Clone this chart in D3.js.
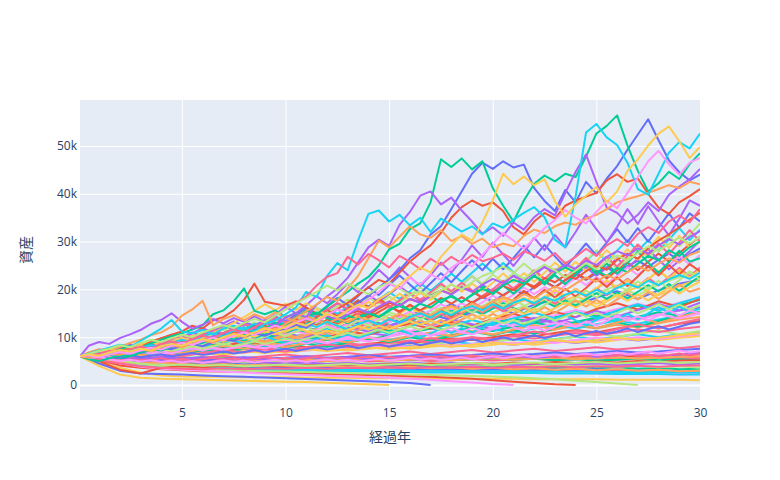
<!DOCTYPE html>
<meta charset="utf-8">
<html>
    <head>
        <style type="text/css">
            body { margin:0; background:#fff; }
            .tick text, .graphText {
                font-family: "Open Sans", "Noto Sans CJK JP", sans-serif;
                fill: #2a3f5f;
            }
        </style>
        <script src="https://d3js.org/d3.v7.min.js"></script>
    </head>
    <body>
        <svg width="780" height="480"></svg>
        <script type="text/javascript">
            // plotly default colorway, used by trace index
            var colorway = ["#636efa", "#EF553B", "#00cc96", "#ab63fa", "#FFA15A",
                            "#19d3f3", "#FF6692", "#B6E880", "#FF97FF", "#FECB52"];

            var xTicks = [5, 10, 15, 20, 25, 30];
            var yTicks = [0, 10000, 20000, 30000, 40000, 50000];

            // asset paths in thousands; 31 values = yearly, 61 values = half-yearly,
            // shorter yearly arrays stop where the asset ran out
            var lowA = [
                [6.0,5.2,4.7,4.3,4.0,3.8,3.9,3.7,3.8,3.6,3.7,3.5,3.6,3.4,3.5,3.3,3.4,3.2,3.3,3.1,3.2,3.0,3.1,2.9,3.0,2.8,2.9,2.7,2.8,2.6,2.7],
                [6.0,5.7,5.4,5.6,5.3,5.5,5.2,5.4,5.6,5.3,5.5,5.7,5.4,5.6,5.8,5.5,5.7,5.9,5.6,5.8,6.0,5.7,5.9,6.1,5.8,6.0,6.2,5.9,6.1,6.3,6.5],
                [6.0,5.4,4.9,4.6,4.8,4.5,4.7,4.4,4.6,4.3,4.5,4.2,4.4,4.1,4.3,4.0,4.2,3.9,4.1,3.8,4.0,3.7,3.9,3.6,3.8,3.5,3.7,3.4,3.6,3.3,3.4],
                [6.0,6.2,6.5,6.2,6.6,6.9,6.6,7.0,7.3,7.0,7.4,7.7,7.3,7.7,8.1,7.7,8.1,8.5,8.1,8.5,8.9,8.4,8.9,9.3,8.8,9.3,9.8,9.3,9.8,10.3,10.6],
                [6.0,5.9,5.6,5.9,5.6,5.8,5.5,5.7,5.4,5.6,5.3,5.5,5.7,5.4,5.6,5.3,5.5,5.7,5.4,5.6,5.3,5.5,5.7,5.4,5.6,5.8,5.5,5.7,5.9,5.6,5.8],
                [6.0,6.1,6.4,6.8,6.5,6.9,7.3,6.9,7.3,7.7,7.3,7.7,8.1,7.7,8.1,8.6,8.1,8.6,9.1,8.6,9.1,9.6,9.1,9.6,10.1,9.5,10.1,10.6,10.0,10.6,11.0],
                [6.0,5.5,5.0,4.7,4.9,4.6,4.8,5.0,4.7,4.9,5.1,4.8,5.0,5.2,4.9,5.1,5.3,5.0,5.2,5.4,5.1,5.3,5.5,5.2,5.4,5.6,5.3,5.5,5.7,5.4,5.6],
                [6.0,6.5,6.2,6.7,7.1,6.7,7.2,7.6,7.1,7.6,8.1,7.6,8.1,8.6,8.0,8.6,9.1,8.5,9.1,9.7,9.0,9.6,10.2,9.5,10.1,10.8,10.1,10.7,11.4,10.6,11.3],
                [6.0,5.3,4.6,4.0,3.7,3.5,3.4,3.3,3.4,3.2,3.3,3.1,3.2,3.0,3.1,2.9,3.0,2.8,2.9,2.7,2.8,2.6,2.7,2.5,2.6,2.4,2.5,2.3,2.4,2.2,2.3],
                [6.0,6.3,6.0,6.4,6.1,6.5,6.8,6.4,6.8,7.2,6.8,7.2,7.6,7.2,7.6,8.0,7.6,8.0,8.4,8.0,8.4,8.9,8.4,8.9,9.4,8.9,9.4,9.9,9.4,9.9,10.2]
            ];

            var lowB = [
                [6.0,5.6,5.2,4.9,5.1,4.8,4.6,4.8,4.5,4.3,4.4,4.2,4.0,4.1,3.9,3.8,3.9,3.7,3.6,3.7,3.5,3.4,3.5,3.3,3.2,3.3,3.1,3.0,3.1,2.9,2.8],
                [6.0,6.4,6.1,6.6,7.0,6.7,7.2,7.6,7.3,7.8,8.2,7.9,8.4,8.0,8.6,9.1,8.7,9.3,9.8,9.4,10.0,10.6,10.2,10.9,11.5,11.0,11.8,12.5,12.0,12.8,13.4],
                [6.0,5.8,6.0,5.7,5.9,5.6,5.8,5.5,5.7,5.4,5.6,5.3,5.5,5.7,5.4,5.6,5.3,5.5,5.2,5.4,5.6,5.3,5.5,5.2,5.4,5.1,5.3,5.5,5.2,5.4,5.1],
                [6.0,6.6,7.1,6.8,7.5,8.1,7.7,8.4,9.0,8.5,9.2,9.9,9.4,10.2,10.9,10.3,11.1,11.8,11.2,12.0,12.6,12.0,12.9,13.6,12.9,13.8,14.6,13.9,14.8,15.6,16.2],
                [6.0,5.5,5.1,5.3,4.9,5.1,4.8,5.0,5.2,4.9,5.1,5.3,5.0,5.2,5.4,5.1,5.3,5.5,5.2,5.4,5.6,5.3,5.5,5.7,5.4,5.6,5.8,5.5,5.7,5.9,6.0],
                [6.0,5.2,4.6,4.2,3.9,3.7,3.5,3.3,3.2,3.1,3.0,2.9,2.9,2.8,2.8,2.7,2.7,2.6,2.6,2.6,2.5,2.5,2.5,2.4,2.4,2.4,2.3,2.3,2.3,2.2,2.2],
                [6.0,6.2,6.7,6.4,6.9,7.3,7.0,7.5,7.9,7.6,8.1,7.7,8.2,8.7,8.3,8.8,9.3,8.9,9.5,10.0,9.6,10.2,9.7,10.3,10.9,10.4,11.0,11.6,11.1,11.7,12.2],
                [6.0,5.4,5.6,5.2,5.4,5.0,4.8,5.0,4.7,4.9,4.6,4.8,4.5,4.7,4.4,4.6,4.3,4.5,4.2,4.4,4.1,4.3,4.0,4.2,3.9,4.1,3.8,4.0,3.7,3.9,3.6],
                [6.0,6.3,6.0,6.5,6.2,6.7,6.4,6.9,7.3,7.0,7.5,7.2,7.7,7.4,7.9,8.3,8.0,8.5,8.1,8.6,9.0,8.7,9.2,8.8,9.4,9.9,9.5,10.0,9.6,10.2,10.6],
                [6.0,4.8,3.6,2.6,2.0,1.8,1.7,1.7,1.6,1.6,1.6,1.5,1.5,1.5,1.4,1.4,1.4,1.4,1.3,1.3,1.3,1.3,1.2,1.2,1.2,1.2,1.1,1.1,1.1,1.1,1.0]
            ];

            var depletedMix = [
                [6.0,4.5,3.0,2.4,2.3,2.2,2.0,1.85,1.7,1.55,1.4,1.25,1.1,0.95,0.8,0.6,0.4,0.0],
                [6.0,5.2,4.1,3.6,3.3,3.1,2.9,2.8,2.7,2.6,2.5,2.4,2.3,2.2,2.1,2.0,1.85,1.7,1.5,1.3,1.0,0.7,0.4,0.15,0.0],
                [6.0,6.5,6.1,6.8,7.4,7.0,7.7,8.3,7.8,8.5,9.2,8.7,9.4,10.1,9.5,10.3,11.0,10.4,11.2,12.0,11.3,12.2,13.0,12.3,13.2,14.1,13.4,14.3,15.2,14.5,15.4],
                [6.0,5.7,5.3,5.6,5.2,4.9,5.1,4.8,5.0,4.7,4.5,4.7,4.4,4.6,4.3,4.5,4.7,4.4,4.6,4.3,4.5,4.2,4.4,4.6,4.3,4.5,4.2,4.4,4.6,4.3,4.5],
                [6.0,6.8,6.4,7.1,7.7,7.3,8.0,7.6,8.3,8.9,8.4,9.1,8.6,9.3,10.0,9.5,10.2,9.7,10.5,11.2,10.6,11.4,10.8,11.6,12.4,11.8,12.6,12.0,12.9,13.7,14.2],
                [6.0,5.3,4.8,4.4,4.1,3.9,3.7,3.6,3.5,3.4,3.3,3.3,3.2,3.2,3.1,3.1,3.0,3.0,3.0,2.9,2.9,2.9,2.8,2.8,2.8,2.8,2.7,2.7,2.7,2.7,2.6],
                [6.0,5.5,5.9,5.4,5.8,5.3,5.7,6.1,5.6,6.0,6.4,5.9,6.3,6.7,6.2,6.6,7.0,6.5,6.9,7.3,6.8,7.2,7.6,7.1,7.5,7.9,7.4,7.8,8.2,7.7,8.1],
                [6.0,5.8,5.0,4.4,4.0,3.6,3.3,3.1,3.0,2.9,2.8,2.7,2.6,2.5,2.4,2.3,2.2,2.1,2.0,1.9,1.8,1.6,1.4,1.2,0.9,0.6,0.3,0.0],
                [6.0,5.5,4.6,3.8,3.4,3.2,3.0,2.8,2.6,2.4,2.25,2.1,1.95,1.8,1.65,1.5,1.3,1.1,0.8,0.5,0.2,0.0],
                [6.0,4.0,2.2,1.5,1.3,1.2,1.1,1.0,0.9,0.8,0.7,0.6,0.45,0.3,0.15,0.0]
            ];

            var lowC = [
                [6.0,5.8,5.5,5.7,5.4,5.6,5.3,5.5,5.8,5.5,5.7,6.0,5.7,5.9,6.2,5.9,6.1,6.4,6.1,6.3,6.6,6.3,6.5,6.8,6.5,6.8,7.1,6.8,7.0,7.3,7.6],
                [6.0,5.0,3.2,2.4,3.6,3.9,3.7,4.0,3.8,4.1,3.9,4.2,4.0,4.3,4.1,4.4,4.2,4.5,4.3,4.6,4.4,4.7,4.5,4.8,4.6,4.9,4.7,5.0,4.8,5.1,5.2],
                [6.0,6.3,6.9,7.4,7.0,7.7,8.3,7.9,8.6,9.3,8.8,9.6,10.4,9.8,10.7,11.5,10.9,11.8,12.7,12.0,13.0,13.9,13.2,14.2,15.2,14.4,15.5,16.6,15.7,16.8,17.8],
                [6.0,5.6,6.0,5.6,5.9,5.5,5.8,5.4,5.7,5.3,5.6,5.9,5.5,5.8,5.4,5.7,6.0,5.6,5.9,5.5,5.8,6.1,5.7,6.0,6.3,5.9,6.2,6.5,6.1,6.4,6.7],
                [6.0,5.4,4.9,4.5,4.7,4.4,4.2,4.4,4.1,4.3,4.0,3.8,4.0,3.7,3.9,3.6,3.8,3.5,3.7,3.4,3.6,3.3,3.5,3.2,3.4,3.1,3.3,3.0,3.2,2.9,3.0],
                [6.0,6.4,6.9,6.5,7.1,7.6,7.2,7.8,8.4,7.9,8.5,9.1,8.6,9.3,9.9,9.4,10.1,10.7,10.1,10.9,11.6,11.0,11.8,12.5,11.8,12.7,13.5,12.8,13.7,14.5,15.1],
                [6.0,5.2,4.5,3.9,3.6,3.4,3.3,3.5,3.3,3.5,3.4,3.6,3.4,3.6,3.5,3.7,3.5,3.7,3.6,3.8,3.6,3.8,3.7,3.9,3.7,3.9,3.8,4.0,3.8,4.0,4.1],
                [6.0,5.6,5.1,4.5,4.1,4.3,4.0,4.2,3.9,4.1,4.3,4.0,4.2,4.4,4.1,4.3,4.5,4.2,4.4,4.6,4.3,4.5,4.7,4.4,4.6,4.8,4.5,4.7,4.9,4.6,4.8],
                [6.0,6.6,7.3,7.9,7.5,8.2,8.9,8.4,9.2,9.9,9.3,10.1,10.9,10.2,11.1,12.0,11.3,12.2,13.1,12.4,13.4,14.4,13.6,14.6,15.7,14.8,15.9,17.0,16.0,17.2,18.3],
                [6.0,5.9,6.3,5.9,6.3,6.7,6.3,6.7,7.1,6.7,7.1,7.5,7.1,7.5,7.9,7.5,7.9,8.4,8.0,8.4,8.9,8.4,8.9,9.4,8.9,9.4,9.9,9.4,9.9,10.4,10.8]
            ];

            var midYearly = [
                [6.0,6.9,7.5,7.0,8.2,9.0,8.4,9.6,10.5,9.8,11.2,12.0,11.1,12.6,13.5,12.4,13.9,14.8,13.6,15.2,16.4,15.0,16.8,17.9,16.5,18.3,19.6,18.0,19.8,21.2,22.0],
                [6.0,5.8,6.6,7.2,6.8,7.9,8.5,8.0,9.2,8.6,9.8,10.6,9.9,11.3,10.5,11.9,12.8,11.8,13.2,12.4,13.8,14.9,13.7,15.3,14.2,15.9,17.1,15.8,17.5,16.3,18.0],
                [6.0,6.2,5.7,6.4,7.0,6.5,7.3,6.8,7.6,8.3,7.7,8.6,8.0,8.9,9.7,9.0,10.0,9.3,10.3,11.2,10.4,11.5,10.7,11.8,12.8,11.9,13.1,12.2,13.4,14.5,15.0],
                [6.0,6.5,7.0,7.8,8.5,7.9,8.8,9.6,8.9,9.9,10.8,10.0,11.1,12.1,11.2,12.4,13.5,12.5,13.8,12.7,11.6,12.9,14.0,12.9,14.2,15.5,14.3,15.7,17.0,15.6,17.2],
                [6.0,6.1,6.9,6.4,7.2,6.7,7.5,8.2,7.6,8.5,7.9,8.8,9.6,8.9,9.9,9.2,10.2,11.0,10.2,11.3,10.5,11.6,12.5,11.6,12.8,11.9,13.1,14.1,13.0,14.3,15.2],
                [6.0,6.6,7.4,8.3,9.0,8.2,9.2,10.1,9.3,10.4,9.6,10.7,11.7,10.8,12.0,11.0,12.3,13.4,12.3,13.6,12.5,13.9,15.1,13.9,15.3,14.0,15.6,16.9,15.5,17.1,18.4],
                [6.0,5.6,6.2,5.8,6.5,6.0,6.7,7.3,6.8,7.5,7.0,7.8,8.5,7.9,8.7,8.1,9.0,9.8,9.1,10.0,9.3,10.3,11.2,10.4,11.4,10.6,11.7,12.7,11.8,12.9,13.8],
                [6.0,6.8,7.6,8.6,9.8,9.0,10.4,11.6,10.6,12.0,13.2,12.0,13.6,14.9,13.5,15.2,13.8,15.5,14.0,15.8,17.2,15.6,17.5,19.0,17.2,19.2,20.8,18.8,21.0,22.6,24.0],
                [6.0,6.3,6.0,6.8,6.4,7.2,7.9,7.4,8.2,7.7,8.6,9.4,8.8,9.7,9.1,10.1,11.0,10.3,11.3,10.6,11.7,12.7,11.9,13.0,12.2,13.4,14.5,13.6,14.8,13.9,15.0],
                [6.0,6.7,7.4,8.0,8.9,9.8,10.9,12.2,11.2,12.6,11.6,13.0,14.3,13.1,14.6,13.4,14.9,16.3,15.0,16.6,15.2,16.9,18.4,16.9,18.6,17.0,18.9,20.5,18.8,20.7,22.2]
            ];

            var midHalf = [
                [6.0,6.3,6.0,6.6,7.1,6.8,7.4,7.9,7.5,8.2,8.8,8.4,9.1,9.7,9.2,10.0,10.8,10.3,11.2,12.0,11.4,12.3,13.1,12.5,13.4,14.2,13.6,12.8,13.9,14.8,14.0,13.2,14.4,15.5,14.6,15.8,16.9,16.0,17.2,18.4,17.5,18.8,20.1,19.0,20.4,21.6,20.5,21.9,23.2,22.0,23.4,24.6,23.3,24.8,26.0,24.7,26.2,27.5,26.1,27.4,28.6],
                [6.0,6.4,6.9,6.5,7.2,7.8,7.3,8.1,8.7,8.2,9.0,9.7,9.1,10.0,10.9,11.6,10.8,11.9,12.8,12.0,13.1,14.2,13.3,12.4,13.6,12.7,13.9,15.0,14.1,15.3,16.5,15.4,16.7,15.6,16.9,18.2,17.0,18.4,17.2,18.6,20.0,18.7,20.2,21.6,20.2,21.8,20.4,22.0,23.6,22.1,23.8,22.3,24.0,25.6,24.0,25.8,27.5,25.8,27.6,29.4,31.0],
                [6.0,5.7,6.2,6.7,6.3,6.9,7.4,7.0,7.6,8.1,7.6,8.3,8.9,8.3,9.0,9.7,9.1,9.9,10.6,9.9,10.8,11.6,10.9,11.8,11.0,11.9,12.8,12.0,13.0,12.1,13.1,14.1,13.2,14.3,13.4,14.5,15.6,14.6,15.8,14.8,16.0,17.2,16.1,15.0,16.3,17.5,16.4,17.7,16.6,17.9,19.2,18.0,19.4,18.1,19.5,20.9,19.6,21.1,19.7,21.2,22.8],
                [6.0,6.6,7.3,6.8,7.6,8.4,7.8,8.7,9.6,10.5,9.7,10.8,11.9,11.0,12.2,13.3,12.3,11.4,12.6,13.8,12.8,14.1,15.4,14.2,15.6,17.0,15.7,17.2,18.8,17.4,19.0,20.6,19.1,17.6,19.2,20.9,19.3,21.0,22.8,21.0,19.4,21.1,22.9,21.1,22.9,24.8,22.9,21.1,22.9,24.7,22.8,24.6,26.5,24.5,26.4,28.4,26.2,24.2,26.0,28.0,30.2],
                [6.0,6.1,5.8,6.3,6.8,6.4,7.0,6.6,7.2,7.8,7.3,7.9,8.6,8.1,8.8,9.5,8.9,9.7,9.1,9.9,10.7,10.0,10.9,11.8,11.0,12.0,11.2,12.2,13.2,12.3,13.4,14.5,13.5,14.7,13.7,14.9,16.1,15.0,16.3,15.2,16.5,17.8,16.6,18.0,16.8,18.2,19.7,18.4,19.9,18.5,20.1,21.7,20.2,21.9,20.4,22.1,23.9,22.2,24.0,22.4,24.2],
                [6.0,6.5,7.0,7.6,7.1,7.8,8.5,7.9,8.7,9.5,8.8,9.7,10.6,9.8,10.8,11.8,11.0,12.1,13.2,12.2,13.4,14.6,13.5,14.8,16.1,14.9,16.3,17.7,16.4,17.9,19.4,18.0,19.6,21.3,19.7,21.5,23.3,21.6,23.5,25.4,23.5,25.5,23.6,21.8,23.7,21.9,23.8,25.8,23.9,25.9,28.0,25.9,28.1,30.3,28.0,30.3,28.0,30.4,32.8,30.3,32.5],
                [6.0,6.3,6.8,7.3,6.9,7.5,8.1,7.6,8.3,9.0,8.4,9.2,10.0,9.3,10.2,11.1,10.3,11.3,12.3,11.4,12.5,13.6,12.6,13.8,12.8,11.8,12.9,11.9,13.1,12.1,13.3,14.5,13.4,14.7,13.6,14.9,13.8,15.1,16.4,15.2,16.6,15.4,16.8,18.2,16.9,18.4,17.0,18.5,20.1,18.6,20.3,18.8,20.5,22.2,20.6,22.4,20.8,22.6,24.5,22.7,24.6],
                [6.0,6.4,6.1,6.7,7.3,6.9,7.6,8.3,7.8,8.6,9.4,8.8,9.7,10.6,10.0,11.0,12.0,13.1,12.2,13.4,14.6,13.6,14.9,16.2,15.1,16.5,17.9,16.7,18.2,17.0,18.5,17.2,18.8,20.4,19.0,20.7,19.3,21.0,22.8,21.2,23.1,21.5,23.4,25.4,23.6,21.9,23.8,25.8,24.0,26.0,28.2,26.2,24.4,26.4,28.6,26.6,28.8,31.2,29.0,31.4,33.8],
                [6.0,5.8,6.3,6.0,6.6,7.1,6.7,7.3,6.9,7.5,8.1,7.6,8.3,9.0,8.5,9.2,10.0,9.4,10.2,11.1,10.4,11.3,10.6,11.5,12.5,11.7,12.7,13.8,12.9,14.0,13.1,14.2,15.4,14.4,15.6,16.9,15.8,17.1,16.0,17.3,18.7,17.5,18.9,20.4,19.0,20.5,19.2,20.8,22.4,20.9,22.6,21.1,22.8,24.6,23.0,24.8,23.2,25.0,27.0,25.2,27.2],
                [6.0,6.5,6.1,6.7,7.2,6.8,7.4,8.0,7.5,8.2,8.9,8.3,9.1,9.8,9.2,10.0,10.8,10.1,11.0,11.9,11.1,12.1,13.1,12.2,13.3,12.4,13.5,14.6,13.6,14.8,13.8,15.0,16.2,15.1,14.0,15.2,16.4,15.3,16.6,15.5,16.8,18.1,16.9,18.3,17.1,18.5,19.9,18.6,20.1,18.8,20.3,21.9,20.4,22.0,20.6,22.2,23.9,22.3,24.1,22.5,24.2]
            ];

            var midHalfB = [
                [6.0,6.6,6.1,6.9,7.6,7.0,7.9,8.7,8.0,9.0,9.9,9.1,10.2,11.3,10.4,11.6,12.8,11.7,13.0,14.4,13.2,14.7,16.2,14.8,16.5,18.2,16.7,18.6,20.5,18.8,20.9,22.9,21.0,19.2,21.3,23.4,21.5,23.8,26.1,24.0,26.4,24.2,26.6,29.1,26.7,29.3,26.9,24.6,27.0,29.6,27.1,29.8,32.6,29.9,32.8,30.0,32.9,35.9,32.9,35.9,34.2],
                [6.0,5.6,6.2,6.8,6.3,7.0,7.7,7.1,7.9,8.7,8.0,8.9,9.8,9.0,10.0,11.0,10.1,11.2,12.4,11.4,12.6,13.9,12.8,14.2,15.7,14.4,16.0,17.7,16.3,18.0,16.6,15.2,16.8,15.4,14.1,15.6,14.3,15.8,17.4,16.0,17.7,16.2,17.9,19.7,18.1,19.9,18.3,20.1,18.5,20.3,22.3,20.5,22.5,20.7,22.7,24.9,22.9,25.1,23.1,25.3,23.8],
                [6.0,6.4,6.9,6.4,7.0,7.6,7.0,7.7,8.4,7.7,8.5,9.3,8.6,9.4,10.3,9.5,10.4,11.4,10.5,11.5,12.6,11.6,12.7,13.9,12.8,14.0,12.9,14.1,15.4,14.2,15.5,17.0,15.6,17.1,18.7,17.2,18.8,17.3,18.9,20.7,19.0,20.8,19.1,20.9,22.9,21.0,23.0,21.1,23.1,25.3,23.2,25.4,23.3,25.5,27.9,25.6,23.5,25.7,28.1,25.8,26.5],
                [6.0,6.7,7.4,6.8,7.6,8.5,7.8,8.7,9.7,8.9,9.9,11.0,10.1,11.3,12.6,11.6,12.9,14.4,13.2,14.7,16.4,15.0,16.7,18.6,17.1,19.0,21.2,19.4,21.6,24.1,22.1,24.6,22.6,20.7,23.0,25.6,23.5,26.2,29.2,26.8,29.8,27.3,24.9,27.7,30.8,28.2,31.4,28.8,32.0,35.6,32.6,29.8,33.1,36.8,33.7,37.4,34.2,31.3,34.8,38.6,37.5],
                [6.0,5.7,6.1,5.7,6.2,6.7,6.2,6.8,7.3,6.8,7.4,8.0,7.4,8.1,8.7,8.1,8.8,9.5,8.8,9.6,10.3,9.6,10.4,11.2,10.4,11.3,10.5,11.4,12.3,11.4,12.4,11.5,12.5,13.5,12.5,13.6,12.6,13.7,14.8,13.7,14.9,13.8,15.0,16.2,15.0,16.3,15.1,16.4,17.7,16.4,17.8,16.5,17.9,19.3,17.9,19.4,18.0,19.5,21.0,19.5,20.2],
                [6.0,6.2,5.8,6.3,5.9,6.4,7.0,6.5,7.1,7.7,7.1,7.8,8.5,7.9,8.6,9.3,8.6,9.4,10.2,9.4,8.7,9.5,8.8,9.6,10.4,9.6,10.5,9.7,10.6,11.5,10.6,11.6,10.7,9.9,10.8,11.8,10.9,11.9,11.0,12.0,13.1,12.1,13.2,12.2,13.3,14.5,13.4,14.6,13.5,12.5,13.6,14.8,13.7,14.9,13.8,15.0,16.3,15.1,16.4,15.2,16.0],
                [6.0,6.5,7.1,7.7,7.2,7.9,8.6,8.0,8.8,9.6,10.5,9.7,10.6,11.6,10.7,11.7,12.8,11.9,13.0,14.2,13.1,14.3,15.6,14.5,15.8,17.2,15.9,14.7,16.0,17.5,16.2,17.7,19.3,17.8,19.4,21.2,19.6,21.4,19.8,18.3,20.0,21.8,20.2,22.0,24.0,22.2,24.2,22.4,24.4,26.6,24.6,26.8,24.8,27.0,29.4,27.2,29.6,27.4,29.8,32.4,30.0],
                [6.0,6.3,5.9,6.4,6.9,6.4,7.0,7.6,7.0,7.6,8.3,7.7,8.4,9.1,8.4,9.2,10.0,9.3,10.1,11.0,10.2,11.1,12.1,11.2,12.2,11.3,12.3,13.4,12.4,13.5,14.7,13.6,14.8,13.7,14.9,16.2,15.0,16.3,15.1,16.4,17.8,16.5,17.9,16.6,15.4,16.7,18.1,16.8,18.2,19.8,18.3,19.9,18.4,20.0,21.7,20.1,21.8,20.2,21.9,23.8,22.0],
                [6.0,6.4,6.0,6.5,6.1,6.6,7.1,6.6,7.1,6.6,7.2,7.8,7.2,7.8,7.3,7.9,8.5,7.9,8.5,7.9,8.6,9.3,8.6,9.3,8.7,9.4,10.1,9.4,10.1,9.4,10.2,11.0,10.2,11.0,10.3,11.1,12.0,11.1,12.0,11.2,12.1,13.0,12.1,11.3,12.2,11.3,12.2,13.2,12.3,13.3,12.4,13.4,14.4,13.4,14.4,13.5,14.5,15.6,14.5,15.6,15.0],
                [6.0,6.5,7.0,7.6,8.2,7.6,8.3,9.0,8.3,9.1,9.9,9.2,10.0,10.9,11.9,13.0,14.2,15.5,16.9,15.6,17.0,15.7,17.1,15.8,14.6,15.9,17.3,16.0,17.4,16.1,17.5,19.1,17.7,19.3,17.8,19.4,21.1,19.5,21.2,19.6,21.4,23.3,21.5,23.4,21.6,23.5,25.6,23.7,25.8,23.8,25.9,28.2,26.1,28.4,26.2,28.5,31.0,28.7,31.2,28.8,30.0]
            ];

            var mixedMid = [
                [6.0,5.7,6.0,5.6,5.9,6.2,5.8,6.1,6.4,6.0,6.4,6.7,6.3,6.6,7.0,6.6,6.9,7.3,6.8,7.2,7.6,7.1,7.5,7.9,7.4,7.8,8.2,7.7,8.1,8.5,8.0,8.4,8.9,8.3,8.8,9.2,8.7,9.1,9.6,9.0,9.5,10.0,9.4,9.9,10.4,9.8,10.3,10.9,10.2,10.8,11.3,10.7,11.2,11.8,11.1,11.7,12.3,11.6,12.2,12.8,13.2],
                [6.0,6.5,7.0,6.7,7.5,8.2,7.9,9.0,9.8,10.5,11.2,12.4,11.8,13.5,14.2,15.6,17.8,21.2,17.4,17.0,16.6,17.5,16.2,15.0,14.2,13.5,14.8,15.5,14.6,16.0,17.2,16.5,18.0,17.3,18.6,19.8,19.0,20.5,19.6,18.2,19.4,20.8,19.8,21.5,20.6,22.4,21.5,23.0,22.2,23.8,25.0,24.1,26.2,27.5,26.4,28.6,30.2,31.5,33.0,34.6,36.0],
                [6.0,6.4,6.1,6.9,7.4,8.1,7.8,8.7,9.5,10.2,10.8,11.6,12.5,14.8,15.6,17.5,20.2,15.5,14.8,15.6,14.2,15.0,14.1,15.2,14.0,13.2,14.5,13.8,15.0,14.2,15.8,16.5,15.6,17.0,16.2,17.8,18.5,17.4,18.8,20.1,19.2,20.8,22.0,21.2,22.8,21.5,23.4,24.6,23.5,25.2,24.0,22.8,24.5,23.6,25.4,27.0,26.1,28.2,27.0,28.8,30.0],
                [6.0,8.2,9.0,8.6,9.8,10.6,11.5,12.8,13.6,15.0,13.2,11.8,12.6,13.8,12.9,14.0,13.2,12.4,13.6,12.8,14.0,13.1,12.2,13.4,14.5,13.6,14.8,16.0,15.1,16.4,17.5,16.6,18.0,17.2,18.6,19.8,18.9,20.4,19.5,21.0,22.2,21.3,22.8,21.9,23.5,24.6,23.7,25.2,24.3,26.0,25.1,26.8,28.0,27.1,28.6,27.5,29.2,30.5,29.4,31.0,32.2],
                [6.0,6.8,7.5,7.2,8.0,8.8,9.5,10.4,11.0,12.2,14.5,15.8,17.6,12.5,13.8,14.6,13.5,14.8,13.9,15.2,14.1,13.2,14.4,13.6,12.8,13.9,13.1,14.3,13.4,12.6,13.8,14.9,14.0,15.3,14.5,15.8,16.6,15.7,17.1,16.2,17.5,18.4,17.6,19.0,18.1,19.5,20.6,19.8,21.2,22.5,21.6,23.0,22.1,23.6,24.8,23.9,25.4,26.5,25.6,27.2,28.0],
                [6.0,6.6,7.2,7.8,8.4,8.0,9.2,10.5,11.8,13.6,11.2,10.8,11.5,10.6,11.8,12.4,11.6,12.8,12.0,11.2,12.4,11.6,12.8,12.1,13.2,12.4,11.6,12.7,13.5,12.6,13.8,13.0,14.2,15.0,14.1,15.4,14.6,15.8,16.5,15.6,16.9,16.0,17.2,18.0,17.1,18.4,17.6,18.9,19.6,18.7,19.9,19.0,20.3,21.2,20.4,21.8,20.9,22.1,23.0,22.2,23.5],
                [6.0,5.6,5.2,5.5,5.1,5.4,5.0,5.3,5.6,5.2,5.5,5.1,5.4,5.7,5.3,5.6,5.2,5.5,5.8,5.4,5.7,5.3,5.6,5.9,5.5,5.8,5.4,5.7,6.0,5.6,5.9,5.5,5.8,6.1,5.7,6.0,5.6,5.9,6.2,5.8,6.1,5.7,6.0,6.3,5.9,6.2,5.8,6.1,6.4,6.0,6.3,5.9,6.2,6.5,6.1,6.4,6.0,6.3,6.6,6.2,6.5],
                [6.0,6.3,6.7,6.4,6.8,7.2,6.8,7.2,7.6,7.2,7.6,8.1,7.6,8.1,8.6,8.1,8.6,9.1,8.6,9.1,9.7,9.1,9.7,10.3,9.7,10.3,10.9,10.3,10.9,11.6,10.9,11.6,12.3,11.5,12.2,11.5,12.2,12.9,12.1,12.9,13.7,12.9,13.6,12.8,13.6,14.4,13.5,14.3,15.2,14.3,15.1,14.2,15.1,16.0,15.0,15.9,16.9,15.8,16.8,15.8,16.7],
                [6.0,5.6,5.9,5.4,5.0,5.3,4.9,5.2,4.8,5.1,4.7,5.0,4.6,4.9,5.2,4.8,5.1,4.7,5.0,5.3,4.9,5.2,4.8,5.1,5.4,5.0,5.3,4.9,5.2,5.5,5.1,5.4,5.7,5.3,5.6,5.2,5.5,5.8,5.4,5.7,6.0,5.6,5.9,6.2,5.8,6.1,6.4,6.0,6.3,6.6,6.2,6.5,6.8,6.4,6.7,7.0,6.6,6.9,7.2,6.8,7.1],
                [6.0,6.4,6.9,7.4,7.0,7.6,8.1,7.7,8.3,8.9,8.4,9.0,9.6,9.1,9.8,10.4,9.8,10.5,11.2,10.6,11.3,12.0,11.3,10.6,11.4,10.7,11.5,12.3,11.6,12.4,11.7,12.5,13.4,12.6,13.5,12.7,13.6,14.6,13.7,14.7,13.8,14.8,15.9,14.9,16.0,15.0,16.1,17.3,16.2,17.4,16.3,17.5,18.8,17.6,18.9,17.7,19.0,20.4,19.1,20.5,21.6]
            ];

            var highHalf = [
                [6.0,6.2,5.9,6.5,6.3,7.0,6.7,7.3,7.8,7.5,8.2,8.6,8.1,9.0,9.6,9.2,10.1,10.8,10.3,11.2,11.9,12.6,12.0,13.4,14.5,15.8,15.1,17.2,18.6,20.4,22.1,24.0,26.5,28.2,31.5,33.2,36.8,40.5,44.2,46.5,45.2,46.8,45.5,46.1,41.2,38.5,36.4,40.8,38.2,42.5,40.1,43.2,45.8,49.2,52.4,55.6,51.2,47.0,44.5,42.8,44.0],
                [6.0,6.3,6.7,6.4,7.1,7.6,7.2,8.0,7.7,8.4,9.0,8.6,9.4,10.0,9.5,10.4,11.1,10.6,11.5,12.3,11.8,12.9,13.8,13.2,14.6,15.9,17.2,18.8,20.4,22.0,21.2,23.5,25.8,27.6,29.2,31.8,35.0,37.2,38.6,37.5,38.2,36.4,33.0,31.5,34.2,36.0,34.8,37.5,38.6,39.4,40.2,42.8,44.1,42.5,43.2,40.0,37.1,35.8,38.2,39.5,41.0],
                [6.0,5.4,5.0,5.6,6.2,6.0,6.8,7.5,7.2,8.0,8.7,9.3,8.9,10.1,10.8,11.6,11.1,12.4,11.8,13.0,12.5,14.2,15.6,14.8,16.4,18.0,19.5,21.2,22.6,25.0,28.4,29.5,32.6,33.8,38.2,47.2,45.6,47.4,45.1,46.8,41.2,37.5,34.2,38.6,42.1,43.8,42.6,44.2,43.5,47.8,52.6,54.2,56.4,50.1,44.8,40.5,42.2,44.6,43.1,46.2,48.5],
                [6.0,5.8,6.4,6.9,6.6,7.4,7.1,7.9,8.4,8.0,8.8,9.5,9.1,10.2,10.8,11.5,10.9,12.2,13.0,12.4,14.1,15.0,14.2,16.8,18.5,20.2,22.4,25.6,28.8,30.4,29.1,33.5,36.2,39.6,40.5,37.8,39.2,36.5,34.2,31.6,33.0,31.2,34.0,32.5,35.1,36.8,35.5,40.2,44.6,48.2,42.5,37.1,36.0,33.8,35.6,38.2,36.4,39.8,41.5,43.0,45.2],
                [6.0,5.7,6.2,6.6,6.3,6.9,7.4,7.1,7.8,8.3,7.9,8.7,9.3,8.9,9.8,10.5,10.1,11.2,12.0,11.5,12.8,14.0,15.4,16.9,18.4,17.6,20.2,22.8,26.5,30.2,28.8,31.0,33.2,31.5,30.8,32.4,30.1,31.2,29.5,30.6,28.8,29.6,29.0,31.2,32.5,31.8,33.2,34.0,33.5,34.8,35.6,36.8,38.2,38.9,39.5,40.2,41.0,41.8,41.2,42.5,42.0],
                [6.0,6.3,6.8,6.5,7.2,7.0,7.8,8.3,8.0,8.9,9.4,9.0,10.2,10.8,10.1,11.4,12.0,11.2,12.8,13.5,14.8,16.2,19.5,18.4,22.8,25.5,24.0,30.2,35.8,36.5,34.2,35.6,33.4,35.0,32.0,34.8,33.5,32.1,33.2,31.5,33.8,32.9,34.6,36.0,37.2,35.1,30.4,28.8,39.5,52.8,54.6,51.8,50.2,46.5,41.0,39.8,44.2,48.6,50.8,49.5,52.6],
                [6.0,6.2,6.6,7.1,6.8,7.5,8.0,7.6,8.5,9.1,8.7,9.6,10.3,9.8,10.9,11.6,11.0,12.1,13.2,14.5,15.8,17.2,18.5,20.8,22.6,23.4,26.8,25.2,27.4,26.1,24.6,27.0,25.8,24.2,26.4,25.1,26.8,25.5,27.2,25.9,26.6,27.5,26.2,28.0,27.1,26.0,27.6,25.4,26.8,28.5,27.0,29.2,30.5,29.1,31.6,33.0,31.8,34.2,35.5,34.0,36.8],
                [6.0,6.5,7.1,7.6,8.3,7.9,8.8,9.4,9.0,9.8,10.5,10.0,11.0,11.8,12.5,11.9,13.0,13.8,13.1,14.5,15.8,17.0,18.2,19.5,20.8,19.8,21.2,20.1,19.0,20.4,21.5,20.2,18.8,19.6,18.5,19.8,21.0,20.0,21.5,22.8,23.6,24.8,23.5,22.2,23.8,25.2,24.0,22.5,23.9,25.5,24.2,25.8,27.1,26.0,27.6,29.0,28.0,29.5,30.8,29.6,31.0],
                [6.0,6.2,5.8,6.4,6.9,6.6,7.2,7.8,7.4,8.2,8.8,8.4,9.2,9.9,9.4,10.3,11.0,10.5,11.6,12.4,11.8,13.0,13.9,13.2,14.6,15.8,15.0,16.5,17.8,19.5,21.2,20.1,22.4,21.0,23.2,22.0,24.5,26.0,24.8,27.2,29.5,31.8,30.2,28.5,30.6,32.8,34.5,36.6,35.0,33.8,36.2,38.5,37.0,40.2,43.5,46.8,49.0,46.2,44.0,46.5,47.5],
                [6.0,6.4,6.1,6.8,7.3,7.0,7.6,7.2,8.1,8.6,8.2,9.1,9.6,9.2,10.0,10.7,10.2,11.0,11.8,11.3,12.2,13.0,12.4,13.6,14.8,14.2,15.6,16.8,16.1,17.9,19.2,21.0,22.8,24.6,23.5,26.8,29.2,31.5,30.2,34.0,38.6,44.2,42.0,43.6,41.8,43.0,38.5,35.2,37.8,39.6,41.4,38.2,40.5,44.8,47.2,50.1,52.6,54.1,51.0,47.5,49.8]
            ];

            var paths = [].concat(lowA, lowB, depletedMix, lowC, midYearly, midHalf, midHalfB, mixedMid, highHalf);

            var margin = {top: 100, right: 80, bottom: 80, left: 80};
            var width = 780, height = 480;

            var xScale = d3.scaleLinear()
                .domain([1 / 12, 30])
                .range([margin.left, width - margin.right]);
            var yScale = d3.scaleLinear()
                .domain([-3140, 59620])
                .range([height - margin.bottom, margin.top]);

            var svg = d3.select("svg");

            svg.append("rect")
                .attr("x", margin.left)
                .attr("y", margin.top)
                .attr("width", width - margin.left - margin.right)
                .attr("height", height - margin.top - margin.bottom)
                .attr("fill", "#E5ECF6");

            svg.append("clipPath").attr("id", "plotClip")
                .append("rect")
                .attr("x", margin.left)
                .attr("y", margin.top)
                .attr("width", width - margin.left - margin.right)
                .attr("height", height - margin.top - margin.bottom);

            // grid
            var xAxis = d3.axisBottom(xScale)
                .tickValues(xTicks)
                .tickSize(-(height - margin.top - margin.bottom))
                .tickPadding(8)
                .tickFormat(d3.format("d"));
            var yAxis = d3.axisLeft(yScale)
                .tickValues(yTicks)
                .tickSize(-(width - margin.left - margin.right))
                .tickPadding(3)
                .tickFormat(d => d === 0 ? "0" : d3.format("~s")(d));

            var gx = svg.append("g")
                .attr("transform", "translate(" + [0, height - margin.bottom] + ")")
                .call(xAxis);
            var gy = svg.append("g")
                .attr("transform", "translate(" + [margin.left, 0] + ")")
                .call(yAxis);

            [gx, gy].forEach(g => {
                g.select(".domain").remove();
                g.selectAll(".tick line").attr("stroke", "#fff").attr("stroke-width", 1);
                g.selectAll(".tick text").attr("font-size", 12).style("fill", "#2a3f5f");
            });
            gy.selectAll(".tick").filter(d => d === 0).select("line").attr("stroke-width", 2);

            var line = d3.line()
                .x((d, i, arr) => {
                    var step = arr.length > 31 ? 30 / (arr.length - 1) : 1;
                    return xScale(i === 0 ? 1 / 12 : i * step);
                })
                .y(d => yScale(d * 1000));

            svg.append("g")
                .attr("clip-path", "url(#plotClip)")
                .selectAll("path")
                .data(paths)
                .enter().append("path")
                .attr("d", d => line(d))
                .attr("fill", "none")
                .attr("stroke", (d, i) => colorway[i % colorway.length])
                .attr("stroke-width", 2)
                .attr("stroke-linejoin", "round");

            svg.append("text")
                .attr("class", "graphText")
                .attr("x", (margin.left + width - margin.right) / 2)
                .attr("y", 442)
                .attr("font-size", 14)
                .style("text-anchor", "middle")
                .text("経過年");

            svg.append("text")
                .attr("class", "graphText")
                .attr("transform", "translate(31," + (margin.top + height - margin.bottom) / 2 + ") rotate(-90)")
                .attr("font-size", 14)
                .style("text-anchor", "middle")
                .text("資産");
        </script>
    </body>
</html>
